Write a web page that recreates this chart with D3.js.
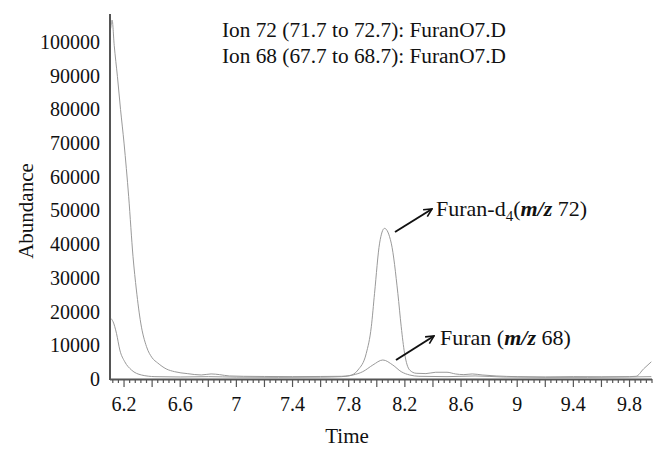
<!DOCTYPE html>
<html>
<head>
<meta charset="utf-8">
<script src="https://cdn.jsdelivr.net/npm/d3@7"></script>
<style>
  body { margin: 0; background: #fff; }
  svg text { font-family: "Liberation Serif", "Times New Roman", serif; fill: #111; }
</style>
</head>
<body>
<svg id="chart" width="670" height="457"></svg>
<script>
// Furan-d4 (m/z 72) trace
var timeD4 = [6.105, 6.115, 6.13, 6.153, 6.175, 6.2, 6.233, 6.264, 6.288, 6.319, 6.36, 6.4, 6.44, 6.5, 6.56,
  6.65, 6.75, 6.82, 6.88, 6.95, 7.05, 7.2, 7.4, 7.6, 7.75, 7.806, 7.866, 7.925, 7.961, 7.984, 8.02, 8.055,
  8.103, 8.15, 8.174, 8.198, 8.234, 8.28, 8.35, 8.42, 8.5, 8.56, 8.62, 8.68, 8.75, 8.85, 9.0, 9.2, 9.4,
  9.6, 9.8, 9.847, 9.9, 9.955];
var abundD4 = [104000, 106500, 99000, 89700, 80000, 70000, 54100, 36300, 26400, 16600, 9600, 6300, 4750, 3000, 2170,
  1600, 1200, 1500, 1300, 900, 800, 750, 700, 750, 800, 1000, 2670, 7600, 15500, 25400, 40300, 44700,
  40300, 25400, 15500, 7600, 2670, 1700, 1600, 2000, 2000, 1500, 1300, 1500, 1200, 900, 700, 600, 700,
  650, 700, 800, 3000, 5100];

// Furan (m/z 68) trace
var time68 = [6.105, 6.122, 6.146, 6.17, 6.205, 6.253, 6.324, 6.42, 6.6, 6.8, 7.0, 7.3, 7.6, 7.75, 7.83, 7.9,
  7.972, 8.043, 8.114, 8.174, 8.234, 8.3, 8.5, 8.7, 8.9, 9.2, 9.5, 9.8, 9.955];
var abund68 = [18000, 17000, 13560, 8600, 5130, 2670, 1190, 700, 600, 700, 550, 500, 550, 700, 1190, 2170,
  4150, 5640, 4150, 2170, 1190, 800, 700, 900, 600, 500, 500, 600, 700];

var yTicks = [0, 10000, 20000, 30000, 40000, 50000, 60000, 70000, 80000, 90000, 100000];
var xTicks = [6.2, 6.6, 7, 7.4, 7.8, 8.2, 8.6, 9, 9.4, 9.8];
var headerLines = ["Ion 72 (71.7 to 72.7): FuranO7.D", "Ion 68 (67.7 to 68.7): FuranO7.D"];

var svg = d3.select("#chart");

var x = d3.scaleLinear().domain([6.1, 9.96]).range([110, 652]);
var y = d3.scaleLinear().domain([0, 108300]).range([379, 14]);

// arrow head
svg.append("defs").append("marker")
    .attr("id", "arrow")
    .attr("viewBox", "0 0 10 10")
    .attr("refX", 9).attr("refY", 5)
    .attr("markerWidth", 5).attr("markerHeight", 5)
    .attr("orient", "auto")
  .append("path")
    .attr("d", "M1,1 L9,5 L1,9")
    .attr("fill", "none")
    .attr("stroke", "#111")
    .attr("stroke-width", 1.6);

// traces
var line = d3.line()
    .x(function (d) { return x(d[0]); })
    .y(function (d) { return y(d[1]); })
    .curve(d3.curveMonotoneX);

svg.append("path")
    .datum(d3.zip(timeD4, abundD4))
    .attr("d", line)
    .attr("fill", "none")
    .attr("stroke", "#9a9a9a")
    .attr("stroke-width", 1);

svg.append("path")
    .datum(d3.zip(time68, abund68))
    .attr("d", line)
    .attr("fill", "none")
    .attr("stroke", "#9a9a9a")
    .attr("stroke-width", 1);

// x axis: minor ticks every 0.04, taller every 0.2
var minor = d3.range(0, 97).map(function (i) { return +(6.12 + i * 0.04).toFixed(2); })
    .filter(function (t) { return t <= 9.96; });
svg.append("g").selectAll("line")
    .data(minor)
    .enter().append("line")
    .attr("x1", function (d) { return x(d); })
    .attr("x2", function (d) { return x(d); })
    .attr("y1", 379)
    .attr("y2", function (d) {
      var k = Math.round(d * 100) % 20 === 0;
      return k ? 387 : 383;
    })
    .attr("stroke", "#555")
    .attr("stroke-width", 1.2);

svg.append("line")
    .attr("x1", 110).attr("x2", 652)
    .attr("y1", 379.5).attr("y2", 379.5)
    .attr("stroke", "#555").attr("stroke-width", 2);

svg.append("line")
    .attr("x1", 110).attr("x2", 110)
    .attr("y1", 14).attr("y2", 380)
    .attr("stroke", "#555").attr("stroke-width", 2);

svg.append("g").selectAll("text")
    .data(xTicks)
    .enter().append("text")
    .attr("x", function (d) { return x(d); })
    .attr("y", 411)
    .attr("text-anchor", "middle")
    .attr("font-size", 20)
    .text(function (d) { return d; });

svg.append("g").selectAll("text")
    .data(yTicks)
    .enter().append("text")
    .attr("x", 100)
    .attr("y", function (d) { return y(d) + 7; })
    .attr("text-anchor", "end")
    .attr("font-size", 20)
    .text(function (d) { return d; });

// axis titles
svg.append("text")
    .attr("x", 347).attr("y", 443)
    .attr("text-anchor", "middle")
    .attr("font-size", 21)
    .text("Time");

svg.append("text")
    .attr("transform", "translate(33,211) rotate(-90)")
    .attr("text-anchor", "middle")
    .attr("font-size", 21)
    .text("Abundance");

// header
svg.append("g").selectAll("text")
    .data(headerLines)
    .enter().append("text")
    .attr("x", 222)
    .attr("y", function (d, i) { return 37 + i * 26; })
    .attr("font-size", 21.3)
    .text(function (d) { return d; });

// annotations
svg.append("line")
    .attr("x1", 395).attr("y1", 232).attr("x2", 432).attr("y2", 209)
    .attr("stroke", "#111").attr("stroke-width", 2)
    .attr("marker-end", "url(#arrow)");

svg.append("line")
    .attr("x1", 396).attr("y1", 360).attr("x2", 434).attr("y2", 336)
    .attr("stroke", "#111").attr("stroke-width", 2)
    .attr("marker-end", "url(#arrow)");

var lab1 = svg.append("text").attr("x", 436).attr("y", 216).attr("font-size", 22);
lab1.append("tspan").text("Furan-d");
lab1.append("tspan").attr("font-size", 15).attr("dy", 5).text("4");
lab1.append("tspan").attr("dy", -5).text("(");
lab1.append("tspan").attr("font-style", "italic").attr("font-weight", "bold").text("m/z");
lab1.append("tspan").text(" 72)");

var lab2 = svg.append("text").attr("x", 440).attr("y", 345).attr("font-size", 22);
lab2.append("tspan").text("Furan (");
lab2.append("tspan").attr("font-style", "italic").attr("font-weight", "bold").text("m/z");
lab2.append("tspan").text(" 68)");
</script>
</body>
</html>
